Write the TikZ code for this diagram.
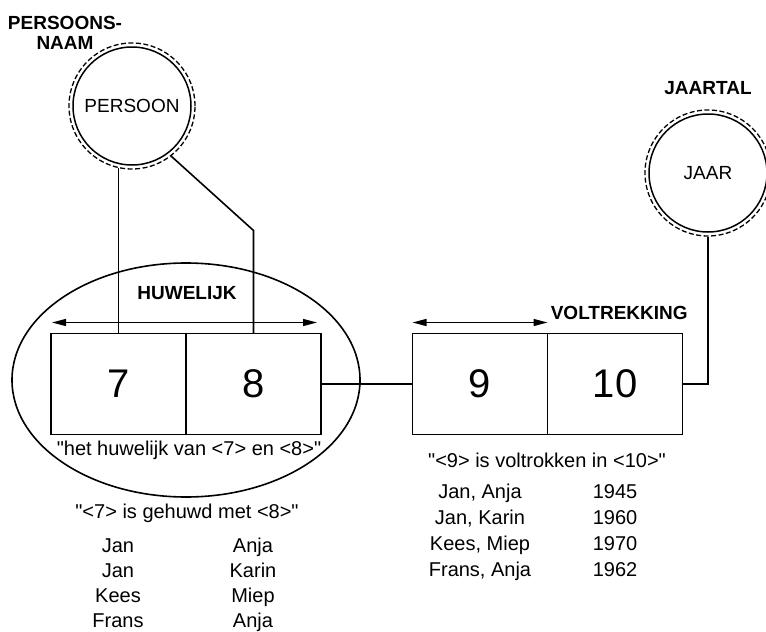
\documentclass[tikz,border=0pt]{standalone}
\usepackage{fontspec}
\setmainfont{Liberation Sans}
\usetikzlibrary{shapes.geometric, arrows.meta, positioning, calc}

\begin{document}
\begin{tikzpicture}[
    x=1pt, y=-1pt, line width=1.6pt,
    ent/.style={circle, draw, dash pattern=on 5pt off 2.5pt, line width=1.3pt,
        minimum size=126pt, inner sep=0pt, font=\fontsize{19}{22}\selectfont,
        path picture={\draw[solid, line width=1.5pt]
            (path picture bounding box.center) circle (59pt);}},
    veld/.style={rectangle, draw, minimum width=135pt, minimum height=101pt,
        inner sep=0pt, outer sep=0pt, font=\fontsize{40}{44}\selectfont},
    naam/.style={font=\fontsize{19}{20}\selectfont\bfseries, align=center, inner sep=0pt},
    zin/.style={font=\fontsize{20}{22}\selectfont, inner sep=0pt,
        text height=14.5pt, text depth=4.5pt},
    pijl/.style={{Triangle[length=14pt,width=7pt]}-{Triangle[length=14pt,width=7pt]},
        line width=1.4pt}
]
\useasboundingbox (0,0) rectangle (766,632);

% ===== entiteiten =====
\node[ent] (pers) at (132,106) {PERSOON};
\node[naam] (perslbl) at (65,33) {PERSOONS-\\NAAM};
\node[ent] (jaar) at (708,173) {JAAR};
\node[naam] (jaarlbl) at (708,88) {JAARTAL};

% ===== feittype huwelijk =====
\node[ellipse, draw, minimum width=348pt, minimum height=234pt] (huw) at (186,380) {};
\node[veld] (f7) at (118.5,384) {7};
\node[veld, right=0pt of f7] (f8) {8};
\draw[pijl] ([xshift=1pt, yshift=11pt]f7.north west) -- ([xshift=-4pt, yshift=11pt]f8.north east);
\node[naam] (huwlbl) at (187,293) {HUWELIJK};
\node[zin] (huwzin) at (189,450) {\textquotedbl het huwelijk van <7> en <8>\textquotedbl};
\node[zin] (gehuwd) at (187,513) {\textquotedbl<7> is gehuwd met <8>\textquotedbl};
\foreach \a/\b [count=\i] in {Jan/Anja, Jan/Karin, Kees/Miep, Frans/Anja} {
    \node[zin] (ha\i) at (118,522+25*\i) {\a};
    \node[zin] (hb\i) at (253,522+25*\i) {\b};
}

% ===== feittype voltrekking =====
\node[veld] (f9) at (480,384) {9};
\node[veld, right=0pt of f9] (f10) {10};
\draw[pijl] ([yshift=11pt]f9.north west) -- ([yshift=11pt]f9.north east);
\node[naam, anchor=west] (voltlbl) at (550,313) {VOLTREKKING};
\node[zin] (voltzin) at (547,462) {\textquotedbl<9> is voltrokken in <10>\textquotedbl};
\foreach \a/\b [count=\i] in {{Jan, Anja}/1945, {Jan, Karin}/1960, {Kees, Miep}/1970, {Frans, Anja}/1962} {
    \node[zin] (va\i) at (480,467+26*\i) {\a};
    \node[zin] (vb\i) at (615,467+26*\i) {\b};
}

% ===== verbindingen =====
\draw (f7.north |- pers.257) -- (f7.north);
\draw (pers.308) -- ($(f8.north)+(0,-103)$) -- (f8.north);
\draw (f8.east) -- (f9.west);
\draw (f10.east) -| (jaar.south);
\end{tikzpicture}
\end{document}
